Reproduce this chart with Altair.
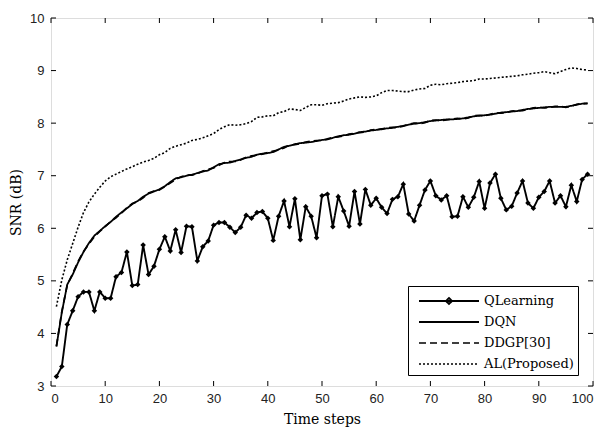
import altair as alt
import pandas as pd

steps = list(range(1, 100))

qlearning = [3.18, 3.37, 4.17, 4.43, 4.70, 4.79, 4.79, 4.43, 4.79, 4.67,
             4.67, 5.08, 5.16, 5.55, 4.91, 4.93, 5.68, 5.12, 5.28, 5.60,
             5.84, 5.57, 5.97, 5.54, 6.04, 6.03, 5.38, 5.65, 5.76, 6.06,
             6.11, 6.11, 6.02, 5.92, 6.02, 6.25, 6.19, 6.30, 6.32, 6.19,
             5.77, 6.23, 6.52, 6.03, 6.56, 5.78, 6.41, 6.23, 5.82, 6.62,
             6.65, 6.03, 6.60, 6.33, 6.04, 6.70, 6.08, 6.74, 6.44, 6.57,
             6.40, 6.28, 6.55, 6.60, 6.84, 6.27, 6.14, 6.44, 6.73, 6.90,
             6.62, 6.54, 6.62, 6.22, 6.23, 6.60, 6.40, 6.59, 6.89, 6.38,
             6.86, 7.03, 6.57, 6.35, 6.42, 6.67, 6.90, 6.48, 6.38, 6.59,
             6.70, 6.90, 6.48, 6.62, 6.41, 6.82, 6.51, 6.93, 7.03]

dqn = [3.75, 4.40, 4.93, 5.12, 5.35, 5.55, 5.72, 5.86, 5.95, 6.04,
       6.12, 6.22, 6.30, 6.38, 6.46, 6.52, 6.60, 6.66, 6.70, 6.74,
       6.80, 6.88, 6.95, 6.97, 7.00, 7.02, 7.05, 7.08, 7.10, 7.16,
       7.22, 7.24, 7.25, 7.28, 7.31, 7.34, 7.36, 7.40, 7.42, 7.43,
       7.45, 7.50, 7.55, 7.57, 7.60, 7.62, 7.63, 7.64, 7.66, 7.68,
       7.69, 7.72, 7.75, 7.77, 7.78, 7.80, 7.83, 7.84, 7.86, 7.87,
       7.89, 7.90, 7.91, 7.93, 7.95, 7.97, 7.99, 8.00, 8.02, 8.04,
       8.05, 8.06, 8.07, 8.07, 8.08, 8.09, 8.11, 8.13, 8.14, 8.15,
       8.16, 8.18, 8.20, 8.21, 8.22, 8.23, 8.25, 8.27, 8.28, 8.29,
       8.30, 8.31, 8.31, 8.31, 8.31, 8.33, 8.35, 8.37, 8.38]

ddgp = [3.76, 4.42, 4.92, 5.14, 5.37, 5.56, 5.70, 5.84, 5.94, 6.03,
        6.13, 6.20, 6.29, 6.39, 6.47, 6.51, 6.58, 6.67, 6.71, 6.73,
        6.79, 6.86, 6.93, 6.98, 7.01, 7.01, 7.04, 7.09, 7.12, 7.15,
        7.20, 7.25, 7.27, 7.27, 7.30, 7.35, 7.38, 7.39, 7.41, 7.44,
        7.47, 7.49, 7.53, 7.58, 7.59, 7.61, 7.64, 7.66, 7.67, 7.67,
        7.70, 7.73, 7.74, 7.76, 7.79, 7.81, 7.82, 7.83, 7.87, 7.88,
        7.88, 7.91, 7.92, 7.92, 7.94, 7.98, 8.00, 7.99, 8.01, 8.05,
        8.06, 8.05, 8.06, 8.08, 8.09, 8.08, 8.10, 8.14, 8.15, 8.14,
        8.17, 8.19, 8.19, 8.20, 8.23, 8.24, 8.24, 8.26, 8.29, 8.30,
        8.29, 8.30, 8.32, 8.32, 8.30, 8.32, 8.36, 8.37, 8.37]

al = [4.51, 5.02, 5.40, 5.71, 6.02, 6.30, 6.50, 6.65, 6.78, 6.90,
      6.98, 7.03, 7.08, 7.13, 7.17, 7.22, 7.26, 7.29, 7.33, 7.40,
      7.44, 7.52, 7.56, 7.59, 7.62, 7.67, 7.69, 7.72, 7.76, 7.80,
      7.88, 7.93, 7.97, 7.96, 7.97, 7.99, 8.03, 8.11, 8.12, 8.14,
      8.14, 8.20, 8.22, 8.27, 8.26, 8.24, 8.30, 8.35, 8.35, 8.34,
      8.37, 8.38, 8.39, 8.42, 8.46, 8.48, 8.50, 8.49, 8.50, 8.52,
      8.58, 8.62, 8.62, 8.61, 8.60, 8.60, 8.63, 8.65, 8.66, 8.72,
      8.74, 8.73, 8.75, 8.76, 8.77, 8.79, 8.80, 8.81, 8.84, 8.84,
      8.85, 8.86, 8.87, 8.88, 8.89, 8.90, 8.92, 8.93, 8.95, 8.96,
      8.98, 8.96, 8.94, 8.98, 9.02, 9.05, 9.04, 9.02, 9.01]

series_names = ["QLearning", "DQN", "DDGP[30]", "AL(Proposed)"]
x_ticks = [0, 10, 20, 30, 40, 50, 60, 70, 80, 90, 100]
y_ticks = [3, 4, 5, 6, 7, 8, 9, 10]

rows = []
for name, vals in zip(series_names, [qlearning, dqn, ddgp, al]):
    for s, v in zip(steps, vals):
        rows.append({"step": s, "snr": v, "series": name})
df = pd.DataFrame(rows)
dfq = df[df.series == "QLearning"]

W, H = 542, 368
serif = "DejaVu Serif"
sans = "Liberation Sans"

xscale = alt.Scale(domain=[0, 100], nice=False, zero=False)
yscale = alt.Scale(domain=[3, 10], nice=False, zero=False)

dash_scale = alt.Scale(domain=series_names,
                       range=[[1, 0], [1, 0], [7, 4], [2, 2]])

line_path = "M-0.4,0H5.6"
diamond_path = "M-0.4,0H5.6M2.6,-0.3L2.9,0L2.6,0.3L2.3,0Z"
shape_scale = alt.Scale(domain=series_names,
                        range=[diamond_path, line_path, line_path, line_path])

legend_props = dict(title=None, orient="none", legendX=357, legendY=268,
                    symbolSize=400, symbolStrokeWidth=1.6,
                    symbolStrokeColor="black",
                    labelFont=serif, labelFontSize=13,
                    labelColor="black", strokeColor="black",
                    fillColor="white", padding=4, rowPadding=3,
                    labelOffset=50)

xenc = alt.X("step:Q", scale=xscale,
             axis=alt.Axis(values=x_ticks, title="Time steps", grid=False,
                           domain=False, ticks=False, labelPadding=6,
                           format="d",
                           labelFont=sans, labelFontSize=13, labelColor="#222",
                           titleFont=serif, titleFontSize=14, titleFontWeight="normal",
                           titlePadding=7, titleColor="#000"))
yenc = alt.Y("snr:Q", scale=yscale,
             axis=alt.Axis(values=y_ticks, title="SNR (dB)", grid=False,
                           domain=False, ticks=False, labelPadding=7,
                           format="d",
                           labelFont=sans, labelFontSize=13, labelColor="#222",
                           titleFont=serif, titleFontSize=14, titleFontWeight="normal",
                           titlePadding=6, titleColor="#000"))

lines = alt.Chart(df).mark_line(color="black", strokeCap="butt").encode(
    x=xenc,
    y=yenc,
    detail="series:N",
    strokeDash=alt.StrokeDash("series:N", scale=dash_scale,
                              legend=alt.Legend(**legend_props)),
    strokeWidth=alt.StrokeWidth(
        "series:N",
        scale=alt.Scale(domain=series_names, range=[1.9, 1.6, 1.5, 2.5]),
        legend=None),
    order="step:Q",
)

points = alt.Chart(dfq).mark_point(shape="diamond", filled=True, color="black",
                                   size=30, opacity=1).encode(
    x=alt.X("step:Q", scale=xscale),
    y=alt.Y("snr:Q", scale=yscale),
)

legend_layer = alt.Chart(dfq).mark_point(
    color="black", filled=False, strokeWidth=1.6).encode(
    x=alt.X("step:Q", scale=xscale),
    y=alt.Y("snr:Q", scale=yscale),
    opacity=alt.value(0),
    shape=alt.Shape("series:N", scale=shape_scale,
                    legend=alt.Legend(**legend_props)),
)

xt = pd.DataFrame({"t": x_ticks})
yt = pd.DataFrame({"t": y_ticks})

xt_bottom = alt.Chart(xt).mark_rule(color="black", strokeWidth=1).encode(
    x=alt.X("t:Q", scale=xscale), y=alt.value(H), y2=alt.value(H - 5))
xt_top = alt.Chart(xt).mark_rule(color="black", strokeWidth=1).encode(
    x=alt.X("t:Q", scale=xscale), y=alt.value(0), y2=alt.value(5))
yt_left = alt.Chart(yt).mark_rule(color="black", strokeWidth=1).encode(
    y=alt.Y("t:Q", scale=yscale), x=alt.value(0), x2=alt.value(5))
yt_right = alt.Chart(yt).mark_rule(color="black", strokeWidth=1).encode(
    y=alt.Y("t:Q", scale=yscale), x=alt.value(W), x2=alt.value(W - 5))

chart = alt.layer(lines, points, legend_layer, xt_bottom, xt_top, yt_left, yt_right).properties(
    width=W, height=H, autosize="none",
    padding={"left": 43, "top": 10, "right": 7, "bottom": 44},
).configure_view(stroke="black", strokeWidth=1).configure(background="white")

chart.save("out.html", embed_options={"renderer": "svg", "actions": False})
